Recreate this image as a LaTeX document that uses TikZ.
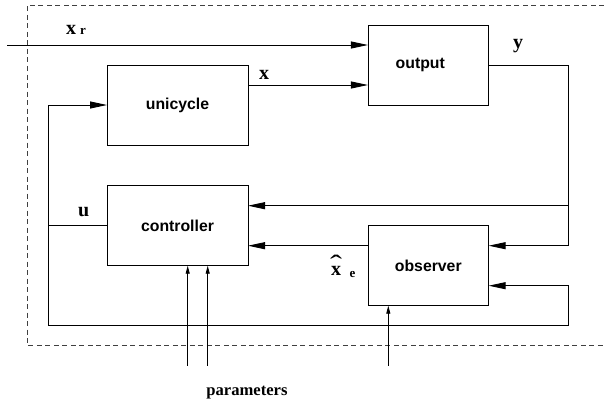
\documentclass[tikz,border=0pt]{standalone}
\usepackage{graphicx}
\usepackage{fontspec}
\setmainfont{Liberation Serif}
\newfontfamily\boxfont{Liberation Sans}
\usetikzlibrary{arrows.meta}

\tikzset{
  block/.style={draw, line width=0.9pt, inner sep=0pt, outer sep=0pt,
    minimum width=141pt, minimum height=80pt,
    font=\boxfont\bfseries\fontsize{15.8}{18}\selectfont},
  smallblock/.style={block, minimum width=120.7pt},
  wire/.style={line width=0.9pt},
  bigarrow/.style={wire, -{Triangle[length=17pt,width=7pt]}},
  smallarrow/.style={wire, -{Triangle[length=8pt,width=4pt]}},
  frame/.style={line width=0.9pt, black!75, dash pattern=on 5pt off 3.5pt},
  sig/.style={inner sep=0pt, anchor=base west,
    font=\bfseries\fontsize{20}{22}\selectfont},
  subsig/.style={inner sep=0pt, anchor=base west,
    font=\bfseries\fontsize{13}{15}\selectfont},
}
% wide circumflex set over a bold x
\newcommand{\widehatx}{%
  \rlap{\kern-1pt\raisebox{2pt}[0pt][0pt]{\scalebox{3}[2.2]{\mdseries\fontsize{12}{12}\selectfont\char"02C6}}}x}

\begin{document}
\begin{tikzpicture}[x=1pt, y=-1pt]
  \useasboundingbox (0,0) rectangle (604,404);

  % subsystem frame (open on the right)
  \draw[frame] (604,5) -- (27.5,5) -- (27.5,345.7) -- (604,345.7);

  % blocks
  \node[block]      (uni)  at (177.5,105)   {unicycle};
  \node[smallblock] (out)  at (428.3,65)    {output\hspace*{16pt}};
  \node[block]      (ctrl) at (177.5,225.7) {controller};
  \node[smallblock] (obs)  at (428.3,265.7) {observer};

  % routing points
  \coordinate (xrin)  at (7,45);
  \coordinate (yc)    at (568.7,65);
  \coordinate (obsA)  at ([yshift=-20pt]obs.north east);
  \coordinate (obsB)  at ([yshift=20pt]obs.south east);
  \coordinate (ctrlA) at ([yshift=-20pt]ctrl.north east);
  \coordinate (ctrlB) at ([yshift=20pt]ctrl.south east);
  \coordinate (fbR)   at (568.7,325.7);
  \coordinate (fbL)   at (48,325.7);
  \coordinate (p1)    at (187.7,365.7);
  \coordinate (p2)    at (207.7,365.7);
  \coordinate (p3)    at (388.3,365.7);

  % reference input
  \draw[bigarrow] (xrin) -- (xrin -| out.west);
  % state to output block
  \draw[bigarrow] ([yshift=-20pt]uni.north east) -- ([yshift=-20pt]uni.north east -| out.west);
  % measured output to observer and controller
  \draw[bigarrow] (out.east) -- (yc) -- (yc |- obsA) -- (obsA);
  \draw[bigarrow] (yc |- ctrlA) -- (ctrlA);
  % estimate to controller
  \draw[bigarrow] (obsA -| obs.west) -- (ctrlB);
  % control input loop
  \draw[bigarrow] (obsB -| fbR) -- (obsB);
  \draw[bigarrow] (obsB -| fbR) -- (fbR) -- (fbL) -- (fbL |- uni.west) -- (uni.west);
  \draw[wire] (ctrl.west) -- (ctrl.west -| fbL);
  % parameters
  \draw[smallarrow] (p1) -- (p1 |- ctrl.south);
  \draw[smallarrow] (p2) -- (p2 |- ctrl.south);
  \draw[smallarrow] (p3) -- (p3 |- obs.south);

  % signal labels
  \node[sig] (lxr) at (66,35) {x\hspace{4pt}{\fontsize{13}{15}\selectfont r}};
  \node[sig] (lx)  at (259,79) {x};
  \node[sig] (ly)  at (513,48.5) {y};
  \node[sig] (lu)  at (78,216) {u};
  \node[sig] (lxe) at (331,275) {\widehatx};
  \node[subsig] (lxe2) at (349.5,277) {e};
  \node[inner sep=0pt, anchor=base, font=\bfseries\fontsize{16.6}{18}\selectfont]
    (lpar) at (247,395) {parameters};
\end{tikzpicture}
\end{document}
